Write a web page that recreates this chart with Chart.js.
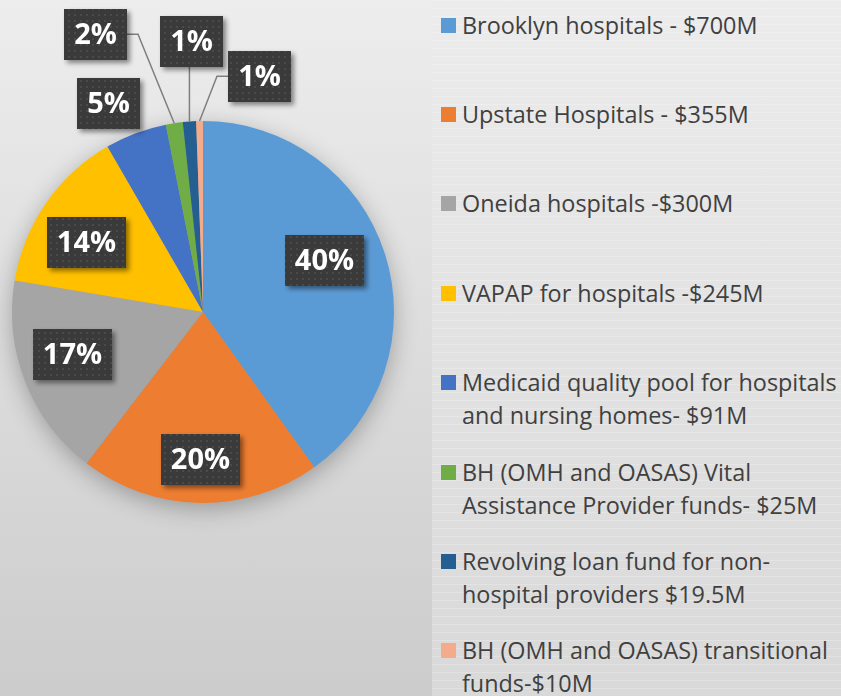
<!DOCTYPE html>
<html>
<head>
<meta charset="utf-8">
<script src="https://cdn.jsdelivr.net/npm/chart.js@4/dist/chart.umd.min.js"></script>
<style>
  html, body { margin: 0; padding: 0; }
  body { width: 841px; height: 696px; position: relative; overflow: hidden;
         background: linear-gradient(to bottom, #ededed 0%, #dedede 45%, #cccccc 100%); }
  #chartBox { position: absolute; left: 0; top: 0; width: 432px; height: 696px; }
  #panel { position: absolute; left: 432px; top: 0; width: 409px; height: 696px;
           background:
             repeating-linear-gradient(to bottom, rgba(255,255,255,0.22) 0 1px, rgba(255,255,255,0) 1px 8px),
             linear-gradient(to bottom, #ececec 0%, #e2e2e2 50%, #d9d9d9 100%); }
  #legend { position: absolute; left: 441px; top: 0; font-family: "Open Sans", sans-serif;
            font-size: 23.4px; color: #404040; }
  .item { position: absolute; left: 0; white-space: nowrap; line-height: 33px; }
  .sw { position: absolute; left: 0; top: 9px; width: 15px; height: 15px; }
  .txt { position: absolute; left: 21px; top: 0; }
</style>
</head>
<body>
<div id="panel"></div>
<div id="chartBox"><canvas id="pieChart" width="432" height="696"></canvas></div>
<div id="legend"></div>
<script>
(function () {
    "use strict";

var categories = [
    ["Brooklyn hospitals - $700M"],
    ["Upstate Hospitals - $355M"],
    ["Oneida hospitals -$300M"],
    ["VAPAP for hospitals -$245M"],
    ["Medicaid quality pool for hospitals", "and nursing homes- $91M"],
    ["BH (OMH and OASAS) Vital", "Assistance Provider funds- $25M"],
    ["Revolving loan fund for non-", "hospital providers $19.5M"],
    ["BH (OMH and OASAS) transitional", "funds-$10M"]
];
var amounts = [700, 355, 300, 245, 91, 25, 19.5, 10];
var percentLabels = ["40%", "20%", "17%", "14%", "5%", "2%", "1%", "1%"];
var colors = ["#5B9BD5", "#ED7D31", "#A5A5A5", "#FFC000", "#4472C4", "#70AD47", "#255E91", "#F4AB8C"];

// label placement: angle shift (deg), distance as fraction of radius, leader line
var placement = [
    { shift: -5, f: 0.69, leader: false },
    { shift: 0, f: 0.77, leader: false },
    { shift: 3.5, f: 0.72, leader: false },
    { shift: -4, f: 0.71, leader: false },
    { shift: -3.7, f: 1.2, leader: false },
    { shift: -12.5, f: 1.56, leader: true },
    { shift: 1.6, f: 1.42, leader: true },
    { shift: 14.6, f: 1.27, leader: true }
];

// dark dotted fill for label boxes
var pat = document.createElement("canvas");
pat.width = 6; pat.height = 6;
var pc = pat.getContext("2d");
pc.fillStyle = "#3a3a3a"; pc.fillRect(0, 0, 6, 6);
pc.fillStyle = "#4a4a4a"; pc.fillRect(2, 2, 2, 2);

var pieShadow = {
    id: "pieShadow",
    beforeDatasetsDraw: function (chart) {
        var arc = chart.getDatasetMeta(0).data[0];
        if (!arc) return;
        var p = arc.getProps(["x", "y", "outerRadius"], true);
        var ctx = chart.ctx;
        ctx.save();
        ctx.shadowColor = "rgba(0,0,0,0.3)";
        ctx.shadowBlur = 24;
        ctx.shadowOffsetY = 6;
        ctx.fillStyle = "#999";
        ctx.beginPath();
        ctx.arc(p.x, p.y, p.outerRadius - 1, 0, Math.PI * 2);
        ctx.fill();
        ctx.restore();
    }
};

var boxLabels = {
    id: "boxLabels",
    afterDatasetsDraw: function (chart) {
        var ctx = chart.ctx;
        var meta = chart.getDatasetMeta(0);
        ctx.save();
        ctx.font = "bold 29px 'Open Sans', sans-serif";
        meta.data.forEach(function (arc, i) {
            var p = arc.getProps(["x", "y", "startAngle", "endAngle", "outerRadius"], true);
            var mid = (p.startAngle + p.endAngle) / 2;
            var a = mid + placement[i].shift * Math.PI / 180;
            var lx = p.x + Math.cos(a) * p.outerRadius * placement[i].f;
            var ly = p.y + Math.sin(a) * p.outerRadius * placement[i].f;
            var tw = ctx.measureText(percentLabels[i]).width;
            var bw = Math.round(tw + 20), bh = 51;
            var bx = Math.round(lx - bw / 2), by = Math.round(ly - bh / 2);

            if (placement[i].leader) {
                var ex = p.x + Math.cos(mid) * p.outerRadius;
                var ey = p.y + Math.sin(mid) * p.outerRadius;
                ctx.strokeStyle = "#7f7f7f";
                ctx.lineWidth = 1.5;
                ctx.beginPath();
                if (ex >= bx && ex <= bx + bw) {
                    ctx.moveTo(ex, by + bh);
                    ctx.lineTo(ex, ey);
                } else if (ex > bx + bw) {
                    ctx.moveTo(bx + bw, ly);
                    ctx.lineTo(bx + bw + 11, ly);
                    ctx.lineTo(ex, ey);
                } else {
                    ctx.moveTo(bx, ly);
                    ctx.lineTo(bx - 11, ly);
                    ctx.lineTo(ex, ey);
                }
                ctx.stroke();
            }

            ctx.save();
            ctx.shadowColor = "rgba(0,0,0,0.45)";
            ctx.shadowBlur = 5;
            ctx.shadowOffsetX = 3;
            ctx.shadowOffsetY = 3;
            ctx.fillStyle = ctx.createPattern(pat, "repeat");
            ctx.fillRect(bx, by, bw, bh);
            ctx.restore();

            ctx.fillStyle = "#ffffff";
            ctx.textAlign = "center";
            ctx.textBaseline = "middle";
            ctx.fillText(percentLabels[i], bx + bw / 2, by + bh / 2 + 1);
        });
        ctx.restore();
    }
};

var ctx = document.getElementById("pieChart");
var myChart = new Chart(ctx, {
    type: 'pie',
    data: {
        labels: categories.map(function (c) { return c.join(" "); }),
        datasets: [{
            data: amounts,
            backgroundColor: colors,
            borderWidth: 0
        }]
    },
    options: {
        responsive: false,
        animation: false,
        layout: { padding: { left: 12, right: 38, top: 121, bottom: 193 } },
        plugins: {
            legend: { display: false },
            tooltip: { enabled: false }
        }
    },
    plugins: [pieShadow, boxLabels]
});

// legend built from the same arrays
var legend = document.getElementById("legend");
categories.forEach(function (lines, i) {
    var item = document.createElement("div");
    item.className = "item";
    item.style.top = Math.round(8.5 + 89.4 * i) + "px";
    var sw = document.createElement("div");
    sw.className = "sw";
    sw.style.background = colors[i];
    var txt = document.createElement("div");
    txt.className = "txt";
    txt.innerHTML = lines.join("<br>");
    item.appendChild(sw);
    item.appendChild(txt);
    legend.appendChild(item);
});

})();
</script>
</body>
</html>
